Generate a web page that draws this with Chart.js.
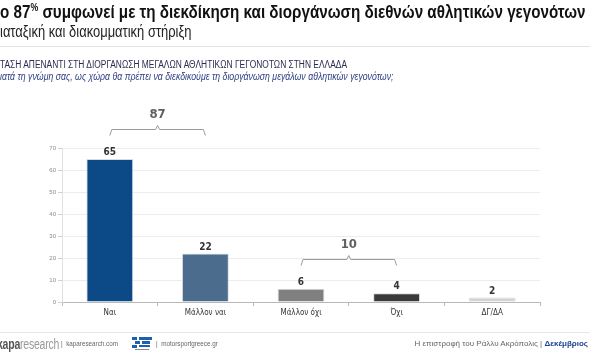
<!DOCTYPE html>
<html>
<head>
<meta charset="utf-8">
<script src="https://cdn.jsdelivr.net/npm/chart.js@4"></script>
<style>
  html, body { margin: 0; padding: 0; background: #fff; }
  body { width: 590px; height: 354px; position: relative; overflow: hidden;
         font-family: "Liberation Sans", Arial, sans-serif; }
  #chart { position: absolute; left: 0; top: 0; }
  .txt { position: absolute; white-space: nowrap; transform-origin: 0 0; }
  #title { left: 0; top: 1px; font-size: 19px; font-weight: bold; color: #111; transform: scaleX(0.80); }
  #title sup { font-size: 11px; vertical-align: 7px; line-height: 0; }
  #subtitle { left: 0; top: 23px; font-size: 16px; color: #222; transform: scaleX(0.81); }
  #rule1 { position: absolute; left: 0; right: 0; top: 46px; height: 1px; background: #e4e4e4; }
  #section { left: 0; top: 59px; font-size: 10px; color: #2a2d4e; transform: scaleX(0.84); }
  #question { left: 0; top: 71px; font-size: 10px; font-style: italic; color: #2f3f82; transform: scaleX(0.875); }
  #rule2 { position: absolute; left: 0; right: 0; top: 332px; height: 1px; background: #e6e6e6; }
  #brand { left: -3px; top: 336px; font-size: 14px; color: #999; letter-spacing: -0.3px; transform: scaleX(0.75); }
  #brand b { color: #555; }
  .small { font-size: 7px; color: #666; top: 340px; transform: scaleX(0.9); }
  #site1 { left: 61px; }
  #site2 { left: 156px; }
  #logo { position: absolute; left: 131px; top: 336px; }
  #credit { right: 2px; top: 339px; font-size: 8px; color: #666; }
  #credit b { color: #1d3f8f; }
</style>
</head>
<body>
<canvas id="chart" width="590" height="354"></canvas>
<div class="txt" id="title">ο 87<sup>%</sup> συμφωνεί με τη διεκδίκηση και διοργάνωση διεθνών αθλητικών γεγονότων</div>
<div class="txt" id="subtitle">ιαταξική και διακομματική στήριξη</div>
<div id="rule1"></div>
<div class="txt" id="section">ΤΑΣΗ ΑΠΕΝΑΝΤΙ ΣΤΗ ΔΙΟΡΓΑΝΩΣΗ ΜΕΓΑΛΩΝ ΑΘΛΗΤΙΚΩΝ ΓΕΓΟΝΟΤΩΝ ΣΤΗΝ ΕΛΛΑΔΑ</div>
<div class="txt" id="question">ιατά τη γνώμη σας, ως χώρα θα πρέπει να διεκδικούμε τη διοργάνωση μεγάλων αθλητικών γεγονότων;</div>
<div id="rule2"></div>
<div class="txt" id="brand"><b>kapa</b>research</div>
<div class="txt small" id="site1">|&nbsp; kaparesearch.com</div>
<svg id="logo" width="22" height="16" viewBox="0 0 22 16">
  <rect x="1" y="1" width="5" height="3" fill="#1f5fb0"/>
  <rect x="8" y="1" width="13" height="3" fill="#1f5fb0"/>
  <rect x="4" y="5" width="5" height="3" fill="#1f5fb0"/>
  <rect x="11" y="5" width="8" height="3" fill="#1f5fb0"/>
  <rect x="1" y="9" width="5" height="3" fill="#1f5fb0"/>
  <rect x="8" y="9" width="11" height="2" fill="#1f5fb0"/>
  <rect x="4" y="13" width="14" height="1" fill="#888"/>
</svg>
<div class="txt small" id="site2">|&nbsp; motorsportgreece.gr</div>
<div class="txt" id="credit">Η επιστροφή του Ράλλυ Ακρόπολις | <b>Δεκέμβριος</b></div>

<script>
// ── Data ──────────────────────────────────────────────────────
const categories = ['Ναι', 'Μάλλον ναι', 'Μάλλον όχι', 'Όχι', 'ΔΓ/ΔΑ'];
const values     = [65, 22, 6, 4, 2];
const barColors  = ['#0c4a87', '#4b6c8c', '#808080', '#3a3a3a', '#d3d3d3'];
const yTicks     = [0, 10, 20, 30, 40, 50, 60, 70];
// brackets: which bars they join, and the total printed above
const groupFrom   = [0, 2];
const groupTo     = [1, 3];
const groupTotals = [87, 10];

const narrow = '"DejaVu Sans Condensed", "Liberation Sans", sans-serif';

// ── Value labels above each bar ───────────────────────────────
const valueLabels = {
  id: 'valueLabels',
  afterDatasetsDraw(chart) {
    const { ctx } = chart;
    const meta = chart.getDatasetMeta(0);
    ctx.save();
    ctx.font = 'bold 10px ' + narrow;
    ctx.fillStyle = '#333';
    ctx.textAlign = 'center';
    ctx.textBaseline = 'bottom';
    meta.data.forEach((bar, i) => {
      ctx.fillText(String(values[i]), bar.x, bar.y - 1.5);
    });
    ctx.restore();
  },
};

// ── Brackets with group totals ────────────────────────────────
const groupBrackets = {
  id: 'groupBrackets',
  afterDatasetsDraw(chart) {
    const { ctx } = chart;
    const meta = chart.getDatasetMeta(0);
    ctx.save();
    groupFrom.forEach((from, g) => {
      const to = groupTo[g];
      const x1 = meta.data[from].x;
      const x2 = meta.data[to].x;
      let top = Infinity;
      for (let i = from; i <= to; i++) top = Math.min(top, meta.data[i].y);
      const y = Math.round(top - 30) + 0.5;
      const mid = (x1 + x2) / 2;
      ctx.strokeStyle = '#9a9a9a';
      ctx.lineWidth = 1;
      ctx.beginPath();
      ctx.moveTo(x1, y + 6);
      ctx.lineTo(x1 + 2, y);
      ctx.lineTo(mid - 2, y);
      ctx.lineTo(mid, y - 4);
      ctx.lineTo(mid + 2, y);
      ctx.lineTo(x2 - 2, y);
      ctx.lineTo(x2, y + 6);
      ctx.stroke();
      ctx.font = 'bold 13px ' + narrow;
      ctx.fillStyle = '#606060';
      ctx.textAlign = 'center';
      ctx.textBaseline = 'middle';
      ctx.fillText(String(groupTotals[g]), mid, y - 15);
    });
    ctx.restore();
  },
};

new Chart(document.getElementById('chart'), {
  type: 'bar',
  plugins: [valueLabels, groupBrackets],
  data: {
    labels: categories,
    datasets: [{
      data: values,
      backgroundColor: barColors,
      borderColor: '#d5dbe2',
      borderWidth: 1,
      barPercentage: 0.49,
      categoryPercentage: 1,
    }],
  },
  options: {
    responsive: false,
    animation: false,
    layout: { padding: { top: 148, right: 50, left: 0, bottom: 0 } },
    plugins: { legend: { display: false }, tooltip: { enabled: false } },
    scales: {
      x: {
        afterFit(scale) { scale.height = 52; },
        grid: { drawOnChartArea: false, drawTicks: true, tickLength: 4, color: '#b8b8b8' },
        border: { color: '#b8b8b8' },
        ticks: { color: '#333', padding: 2, font: { family: narrow, size: 8 } },
      },
      y: {
        min: yTicks[0],
        max: yTicks[yTicks.length - 1],
        afterFit(scale) { scale.width = 62; },
        afterBuildTicks(scale) { scale.ticks = yTicks.map(v => ({ value: v })); },
        grid: { color: '#ececec', tickLength: 4, tickColor: '#cfcfcf' },
        border: { color: '#e0e0e0' },
        ticks: { color: '#8a8a8a', padding: 2,
                 font: { family: '"Liberation Sans", sans-serif', size: 6 } },
      },
    },
  },
});
</script>
</body>
</html>
